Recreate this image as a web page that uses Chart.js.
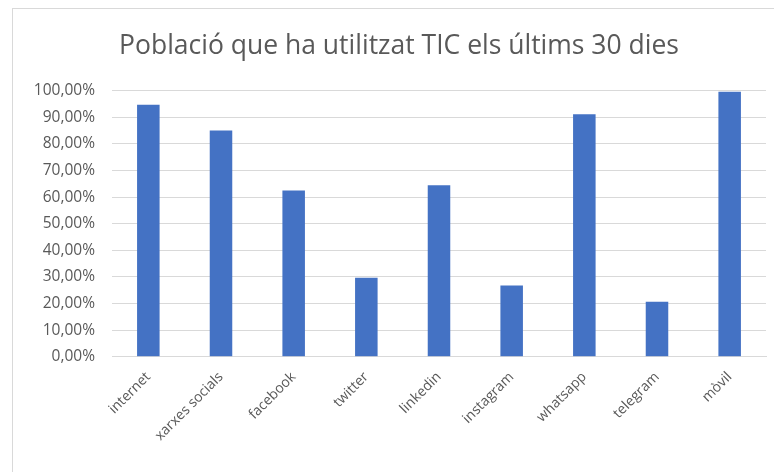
<!DOCTYPE html>
<html>
<head>
<meta charset="utf-8">
<script src="https://cdn.jsdelivr.net/npm/chart.js@4"></script>
<style>
  html, body { margin: 0; padding: 0; background: #fff; }
  #wrap { position: absolute; left: 12px; top: 8px; width: 761px; height: 463px; border: 1px solid #d9d9d9; border-right: none; border-bottom: none; background: #fff; }
</style>
</head>
<body>
<div id="wrap"><canvas id="chartTIC"></canvas></div>
<script>
// dades
var categories = ["internet", "xarxes socials", "facebook", "twitter", "linkedin", "instagram", "whatsapp", "telegram", "mòvil"];
var valors = [0.948, 0.851, 0.625, 0.297, 0.645, 0.268, 0.912, 0.207, 0.996];
var titol = "Població que ha utilitzat TIC els últims 30 dies";

var ctx = document.getElementById("chartTIC").getContext("2d");
new Chart(ctx, {
  type: "bar",
  data: {
    labels: categories,
    datasets: [
      {
        label: "TIC",
        data: valors,
        backgroundColor: "#4472c4",
        categoryPercentage: 1,
        barPercentage: 0.31,
      },
    ],
  },
  options: {
    responsive: true,
    maintainAspectRatio: false,
    animation: false,
    layout: { padding: { left: 19, right: 8, top: 0, bottom: 24 } },
    plugins: {
      legend: { display: false },
      tooltip: { enabled: false },
      title: {
        display: true,
        text: titol,
        color: "#595959",
        font: { family: "Open Sans", size: 26.5, weight: "normal" },
        padding: { top: 22, bottom: 28 },
      },
    },
    scales: {
      x: {
        grid: { display: false },
        border: { color: "#d9d9d9" },
        ticks: {
          color: "#595959",
          font: { family: "Open Sans", size: 14 },
          minRotation: 45,
          maxRotation: 45,
          padding: 4,
        },
      },
      y: {
        min: 0,
        max: 1,
        border: { display: false },
        grid: { color: "#d9d9d9", drawTicks: false },
        afterFit: function (axis) {
          axis.width = 80;
        },
        ticks: {
          stepSize: 0.1,
          color: "#595959",
          font: { family: "Open Sans", size: 15.5 },
          padding: 17,
          callback: function (v) {
            return (v * 100).toFixed(2).replace(".", ",") + "%";
          },
        },
      },
    },
  },
});
</script>
</body>
</html>
